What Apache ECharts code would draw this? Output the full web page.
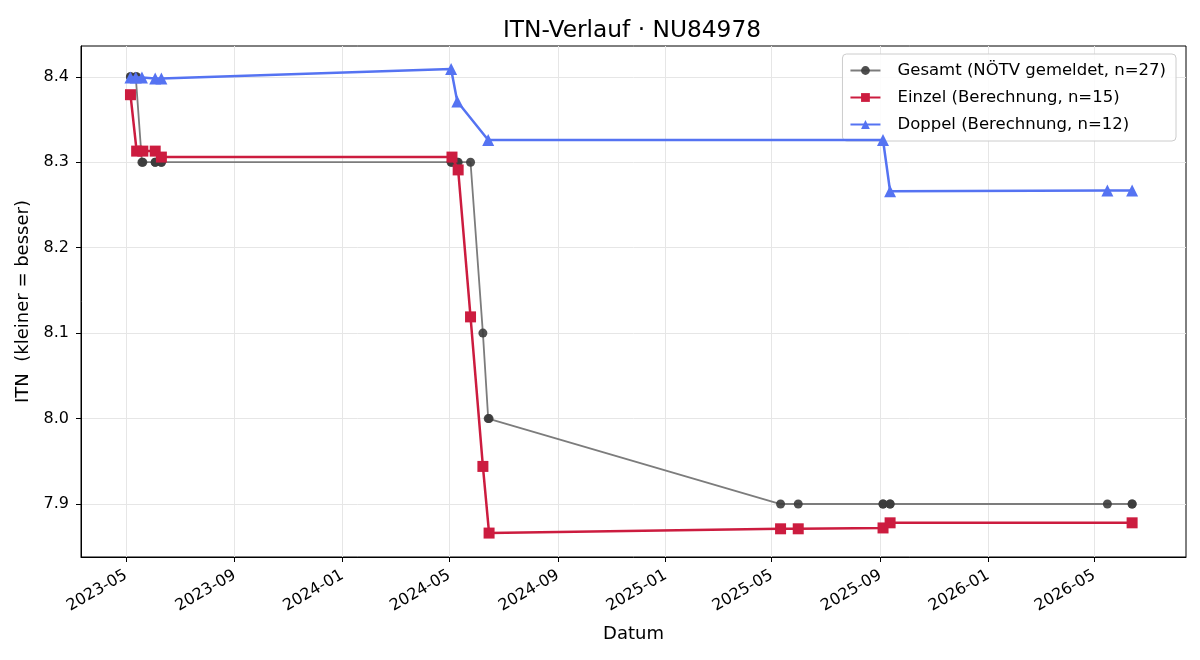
<!DOCTYPE html>
<html>
<head>
<meta charset="utf-8">
<script src="https://cdn.jsdelivr.net/npm/echarts@6/dist/echarts.min.js"></script>
<style>html,body{margin:0;padding:0;background:#fff}#c{width:1200px;height:660px}</style>
</head>
<body>
<div id="c"></div>
<script>
const gesamtDates = ['2023-05-06','2023-05-06','2023-05-12','2023-05-13','2023-05-19','2023-05-20','2023-06-03','2023-06-03','2023-06-10','2023-06-10','2024-05-03','2024-05-04','2024-05-10','2024-05-11','2024-05-25','2024-06-08','2024-06-14','2024-06-15','2025-05-11','2025-05-31','2025-09-04','2025-09-04','2025-09-12','2025-09-12','2026-05-16','2026-06-13','2026-06-13'];
const gesamtVals = [8.4,8.4,8.4,8.4,8.3,8.3,8.3,8.3,8.3,8.3,8.3,8.3,8.3,8.3,8.3,8.1,8.0,8.0,7.9,7.9,7.9,7.9,7.9,7.9,7.9,7.9,7.9];

const einzelDates = ['2023-05-06','2023-05-13','2023-05-20','2023-06-03','2023-06-10','2024-05-04','2024-05-11','2024-05-25','2024-06-08','2024-06-15','2025-05-11','2025-05-31','2025-09-04','2025-09-12','2026-06-13'];
const einzelVals = [8.379,8.313,8.313,8.313,8.306,8.306,8.291,8.119,7.944,7.866,7.871,7.871,7.872,7.878,7.878];

const doppelDates = ['2023-05-06','2023-05-12','2023-05-19','2023-06-03','2023-06-10','2024-05-03','2024-05-10','2024-06-14','2025-09-04','2025-09-12','2026-05-16','2026-06-13'];
const doppelVals = [8.399,8.399,8.399,8.398,8.398,8.409,8.371,8.326,8.326,8.266,8.267,8.267];

const xTickLabels = ['2023-05','2023-09','2024-01','2024-05','2024-09','2025-01','2025-05','2025-09','2026-01','2026-05'];
const yTickLabels = [7.9,8.0,8.1,8.2,8.3,8.4];

const xMin = '2023-03-11', xMax = '2026-08-13';
const yMin = 7.838, yMax = 8.436;

function ts(s){const p=s.split('-').map(Number);return Date.UTC(p[0],p[1]-1,p[2]||1);}
function pairs(d,v){return d.map((x,i)=>[ts(x),v[i]]);}
const xTicks = xTickLabels.map(ts);
const FONT = 'DejaVu Sans';

const chart = echarts.init(document.getElementById('c'), null, {renderer:'canvas'});
chart.setOption({
  animation:false,
  backgroundColor:'#fff',
  textStyle:{fontFamily:FONT},
  title:{text:'ITN-Verlauf · NU84978',left:627,top:14,textAlign:'center',
    textStyle:{fontFamily:FONT,fontSize:23.3,fontWeight:'normal',color:'#000'}},
  grid:{left:81,right:14,top:46,bottom:103,show:true,borderColor:'#000',borderWidth:1,backgroundColor:'transparent'},
  legend:{orient:'vertical',right:24,top:54,itemWidth:30,itemHeight:11,itemGap:10,
    padding:[8,10,8,7],backgroundColor:'rgba(255,255,255,0.85)',borderColor:'#cccccc',borderWidth:1,borderRadius:4,
    textStyle:{fontFamily:FONT,fontSize:16.5,color:'#000',padding:[0,0,0,12]},
    data:['Gesamt (NÖTV gemeldet, n=27)','Einzel (Berechnung, n=15)','Doppel (Berechnung, n=12)']},
  xAxis:{type:'value',min:ts(xMin),max:ts(xMax),
    name:'Datum',nameLocation:'middle',nameGap:68,nameTextStyle:{fontFamily:FONT,fontSize:18,color:'#000'},
    axisLine:{show:true,onZero:false,lineStyle:{color:'#000',width:1}},
    axisTick:{show:true,inside:false,length:5,lineStyle:{color:'#000'},customValues:xTicks},
    axisLabel:{customValues:xTicks,rotate:30,fontFamily:FONT,fontSize:16,color:'#000',margin:17,
      formatter:function(v){const d=new Date(v);return d.getUTCFullYear()+'-'+String(d.getUTCMonth()+1).padStart(2,'0');}},
    splitLine:{show:true,lineStyle:{color:'#e6e6e6',width:1}}},
  yAxis:{type:'value',min:yMin,max:yMax,
    name:'ITN  (kleiner = besser)',nameLocation:'middle',nameGap:42,nameTextStyle:{fontFamily:FONT,fontSize:18,color:'#000'},
    axisLine:{show:true,onZero:false,lineStyle:{color:'#000',width:1}},
    axisTick:{show:true,inside:false,length:5,lineStyle:{color:'#000'},customValues:yTickLabels},
    axisLabel:{customValues:yTickLabels,fontFamily:FONT,fontSize:16,color:'#000',margin:12,
      formatter:function(v){return v.toFixed(1);}},
    splitLine:{show:true,lineStyle:{color:'#e6e6e6',width:1}}},
  series:[
    {name:'Gesamt (NÖTV gemeldet, n=27)',type:'line',data:pairs(gesamtDates,gesamtVals),
      symbol:'circle',symbolSize:9,showAllSymbol:true,
      lineStyle:{color:'#7c7c7c',width:1.8},itemStyle:{color:'rgba(60,60,60,0.9)',borderWidth:0},z:2},
    {name:'Einzel (Berechnung, n=15)',type:'line',data:pairs(einzelDates,einzelVals),
      symbol:'rect',symbolSize:11,showAllSymbol:true,
      lineStyle:{color:'#cc1c3f',width:2.5},itemStyle:{color:'#cc1c3f',borderWidth:0},z:3},
    {name:'Doppel (Berechnung, n=12)',type:'line',data:pairs(doppelDates,doppelVals),
      symbol:'triangle',symbolSize:12,showAllSymbol:true,
      lineStyle:{color:'#5573f2',width:2.5},itemStyle:{color:'#5573f2',borderWidth:0},z:4}
  ]
});
</script>
</body>
</html>
